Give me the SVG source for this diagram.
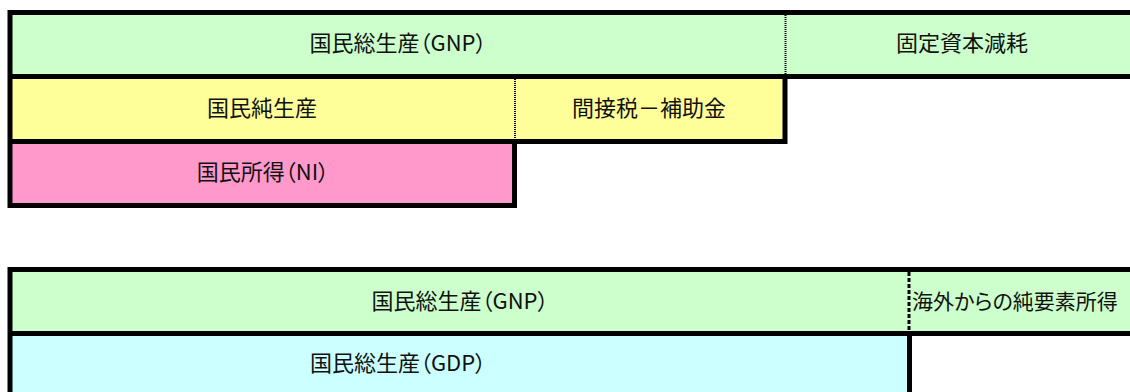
<svg xmlns="http://www.w3.org/2000/svg" width="1130" height="392" viewBox="0 0 1130 392">
  <style>
    text { font-family: "Noto Sans CJK JP", "Noto Sans", sans-serif; font-size: 22px; fill: #111; font-feature-settings: "palt"; }
    .c { text-anchor: middle; }
    .s { font-size: 21px; }
    .b { stroke: #000; stroke-width: 5; fill: none; }
    .d1 { stroke: #000; stroke-width: 2; stroke-dasharray: 1 1; fill: none; }
    .d2 { stroke: #000; stroke-width: 3; stroke-dasharray: 4 2; fill: none; }
    .green { fill: #CCFFCC; }
    .yellow { fill: #FFFF99; }
    .pink { fill: #FF99CC; }
    .cyan { fill: #CCFFFF; }
  </style>
  <rect width="1130" height="392" fill="#fff"/>
  <g id="gnp-top">
    <rect class="green" x="12" y="15" width="773" height="59"/>
    <text class="c" x="398" y="51">国民総生産（GNP）</text>
  </g>
  <g id="depreciation">
    <rect class="green" x="785" y="15" width="345" height="59"/>
    <text class="c" x="962" y="51">固定資本減耗</text>
  </g>
  <g id="nnp">
    <rect class="yellow" x="12" y="79" width="503" height="60"/>
    <text class="c" x="262" y="116">国民純生産</text>
  </g>
  <g id="indirect-tax">
    <rect class="yellow" x="515" y="79" width="268" height="60"/>
    <text class="c" x="649" y="116">間接税－補助金</text>
  </g>
  <g id="ni">
    <rect class="pink" x="12" y="144" width="500" height="59"/>
    <text class="c" x="263" y="180">国民所得（NI）</text>
  </g>
  <g id="gnp-bottom">
    <rect class="green" x="12" y="272" width="897" height="59"/>
    <text class="c" x="460" y="309">国民総生産（GNP）</text>
  </g>
  <g id="net-factor-income">
    <rect class="green" x="909" y="272" width="221" height="59"/>
    <text class="s" x="912" y="309">海外からの純要素所得</text>
  </g>
  <g id="gdp">
    <rect class="cyan" x="12" y="336" width="895" height="56"/>
    <text class="c" x="398" y="371">国民総生産（GDP）</text>
  </g>
  <g id="connectors">
    <path class="b" d="M8 12.5H1130 M10 10V208 M8 76.5H1130 M785 74V144 M8 141.5H787 M514.5 139V208 M8 205.5H517"/>
    <path class="d1" d="M785.5 15V74 M515 79V139"/>
    <path class="b" d="M8 269.5H1130 M10 267V392 M8 333.5H1130 M909.5 331V392"/>
    <path class="d2" d="M909 272V331"/>
  </g>
</svg>
